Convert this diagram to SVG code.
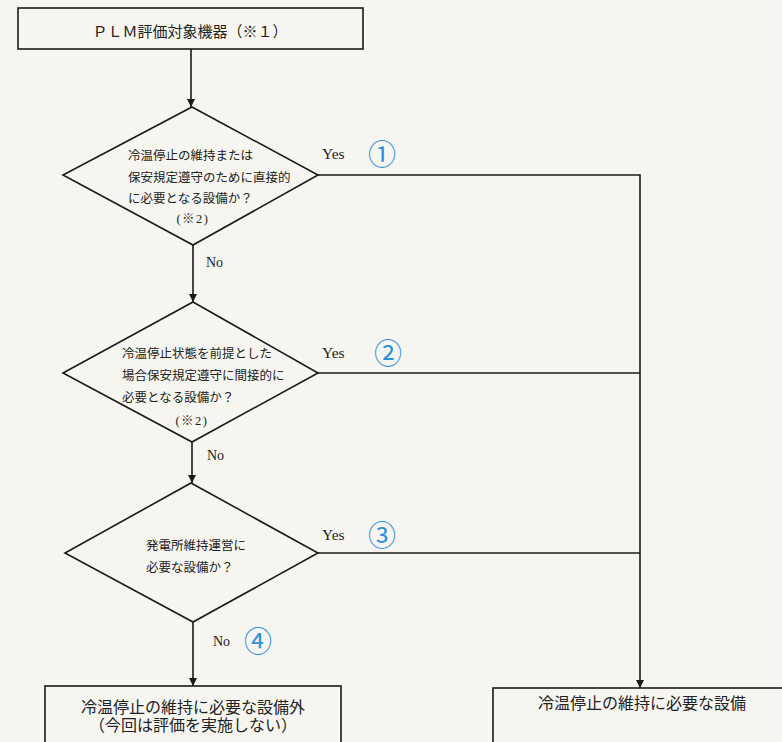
<svg xmlns="http://www.w3.org/2000/svg" width="782" height="742" viewBox="0 0 782 742">
<defs>
<marker id="arr" viewBox="0 0 10 10" refX="10" refY="5" markerWidth="8" markerHeight="8" markerUnits="userSpaceOnUse" orient="auto">
<path d="M0,0 L10,5 L0,10 z" fill="#1a1a1a"/>
</marker>
<style>
.shape{fill:none;stroke:#1a1a1a;stroke-width:1.6}
.line{fill:none;stroke:#1a1a1a;stroke-width:1.6}
.jp{font-family:"Liberation Serif","Noto Sans CJK JP",serif;fill:#222}
.lat{font-family:"Liberation Serif","Noto Sans CJK JP",serif;fill:#222}
.num{font-family:"Noto Sans CJK JP","DejaVu Sans",sans-serif;fill:#2e8fd8;font-size:28px;text-anchor:middle}
.d{font-size:12.5px}
.note{font-size:12.5px;letter-spacing:1.5px;text-anchor:middle}
</style>
</defs>
<rect width="782" height="742" fill="#f6f5f0"/>
<g id="connectors">
<line class="line" x1="191" y1="49" x2="191" y2="107" marker-end="url(#arr)"/>
<line class="line" x1="193" y1="245" x2="193" y2="302" marker-end="url(#arr)"/>
<line class="line" x1="192" y1="442" x2="192" y2="483" marker-end="url(#arr)"/>
<line class="line" x1="193" y1="622" x2="193" y2="686" marker-end="url(#arr)"/>
<polyline class="line" points="318,175 640,175 640,688" marker-end="url(#arr)"/>
<line class="line" x1="318" y1="373" x2="640" y2="373"/>
<line class="line" x1="318" y1="553" x2="640" y2="553"/>
<text class="lat" x="322" y="159" font-size="15.5">Yes</text>
<text class="num" x="382" y="165">①</text>
<text class="lat" x="206" y="267" font-size="14">No</text>
<text class="lat" x="322" y="358" font-size="15.5">Yes</text>
<text class="num" x="388" y="364">②</text>
<text class="lat" x="207" y="460" font-size="14">No</text>
<text class="lat" x="322" y="540" font-size="15.5">Yes</text>
<text class="num" x="382" y="546">③</text>
<text class="lat" x="213" y="646" font-size="14">No</text>
<text class="num" x="258" y="652">④</text>
</g>
<g id="start">
<rect class="shape" x="18" y="8" width="345" height="41"/>
<text class="jp" x="190" y="37" font-size="15" text-anchor="middle">ＰＬＭ評価対象機器（※１）</text>
</g>
<g id="q1">
<polygon class="shape" points="192,107 318,175 193,245 63,175"/>
<text class="jp d" x="128" y="159.5">冷温停止の維持または</text>
<text class="jp d" x="128" y="181.5">保安規定遵守のために直接的</text>
<text class="jp d" x="128" y="202.5">に必要となる設備か？</text>
<text class="jp note" x="193" y="223">(※2)</text>
</g>
<g id="q2">
<polygon class="shape" points="193,302 318,373 192,442 63,373"/>
<text class="jp d" x="122" y="357.5">冷温停止状態を前提とした</text>
<text class="jp d" x="122" y="379.5">場合保安規定遵守に間接的に</text>
<text class="jp d" x="122" y="401.5">必要となる設備か？</text>
<text class="jp note" x="192" y="425">(※2)</text>
</g>
<g id="q3">
<polygon class="shape" points="191,483 318,553 193,622 65,553"/>
<text class="jp d" x="146" y="549.5">発電所維持運営に</text>
<text class="jp d" x="146" y="571.5">必要な設備か？</text>
</g>
<g id="outNo">
<rect class="shape" x="45" y="686" width="296" height="70"/>
<text class="jp" x="193" y="713" font-size="16" text-anchor="middle">冷温停止の維持に必要な設備外</text>
<text class="jp" x="193" y="731" font-size="16" text-anchor="middle">（今回は評価を実施しない）</text>
</g>
<g id="outYes">
<rect class="shape" x="493" y="688" width="300" height="70"/>
<text class="jp" x="642" y="709" font-size="16" text-anchor="middle">冷温停止の維持に必要な設備</text>
</g>
</svg>
